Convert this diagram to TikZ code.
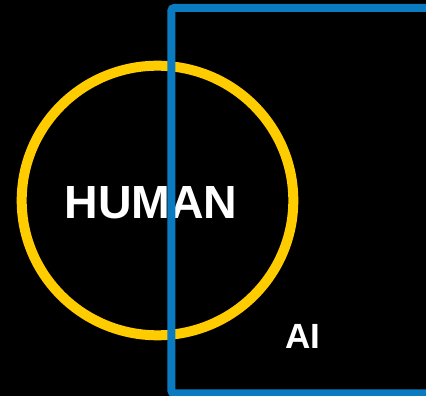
\documentclass[tikz,border=0pt]{standalone}
\usepackage{fontspec}
\setmainfont{Liberation Sans}
\definecolor{bgblack}{HTML}{000000}
\definecolor{humanyellow}{HTML}{FFCC00}
\definecolor{aiblue}{HTML}{0A7BC0}
\tikzset{
  humancircle/.style={draw=humanyellow, line width=10pt},
  aibox/.style={draw=aiblue, line width=8pt, rounded corners=3pt},
  biglabel/.style={text=white, font=\bfseries\fontsize{46.5}{46.5}\selectfont, inner sep=0pt, anchor=base},
  smalllabel/.style={text=white, font=\bfseries\fontsize{35}{35}\selectfont, inner sep=0pt, anchor=base}
}
\begin{document}
\begin{tikzpicture}[x=1pt,y=-1pt]
  \useasboundingbox (0,0) rectangle (426,396);
  \fill[bgblack] (0,0) rectangle (426,396);
  \clip (0,0) rectangle (426,396);
  \draw[humancircle] (157.5,200.5) circle[x radius=135.8, y radius=134.8];
  \node[biglabel] (human) at (151,218) {HUMAN};
  \node[smalllabel] (ai) at (303,348.5) {AI};
  \draw[aibox] (171.3,8) rectangle (445,393.3);
\end{tikzpicture}
\end{document}
